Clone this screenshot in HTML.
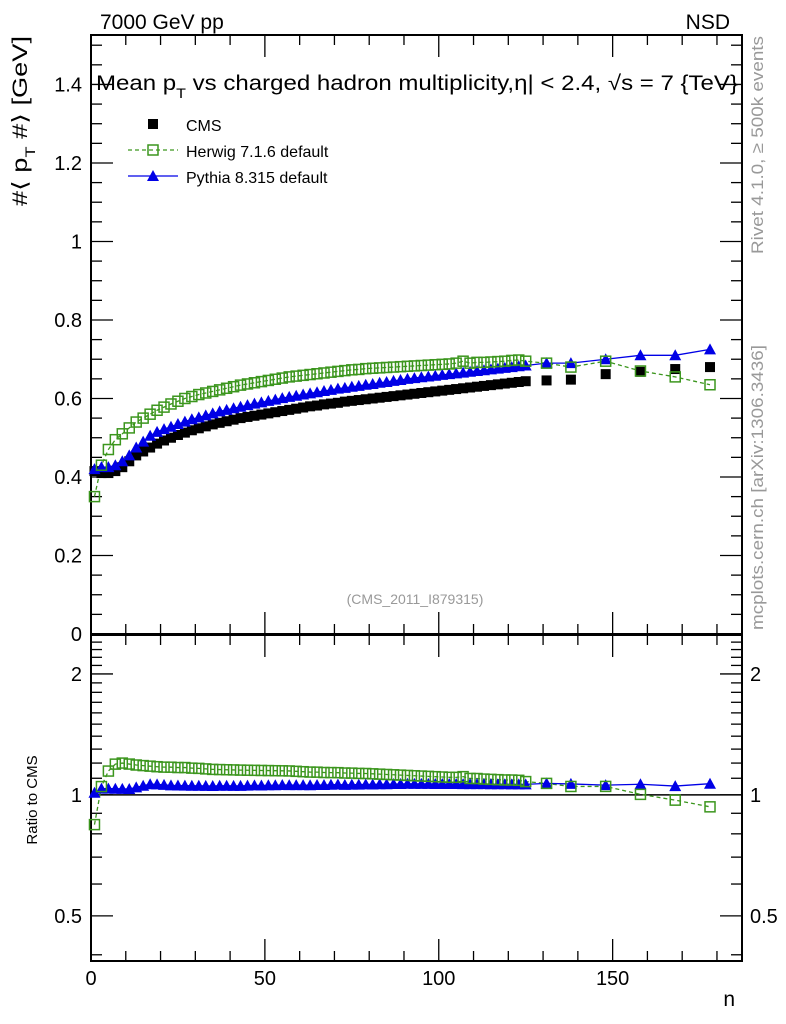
<!DOCTYPE html>
<html><head><meta charset="utf-8"><style>
html,body{margin:0;padding:0;background:#fff}
svg{display:block;font-family:"Liberation Sans","DejaVu Sans",sans-serif}
</style></head><body>
<svg id="chart" width="786" height="1024" viewBox="0 0 786 1024">
<g id="frames"></g><g id="marks"></g><g id="texts"></g>
</svg>
<script>
const nDense = [1,3,5,7,9,11,13,15,17,19,21,23,25,27,29,31,33,35,37,39,41,43,45,47,49,51,53,55,57,59,61,63,65,67,69,71,73,75,77,79,81,83,85,87,89,91,93,95,97,99,101,103,105,107,109,111,113,115,117,119,121,123,125,131,138,148,158,168,178];
const cmsVals = [0.415,0.41,0.41,0.415,0.425,0.44,0.455,0.465,0.475,0.485,0.493,0.5,0.507,0.513,0.519,0.524,0.529,0.534,0.538,0.542,0.546,0.55,0.553,0.556,0.559,0.562,0.565,0.568,0.571,0.574,0.577,0.58,0.582,0.585,0.587,0.589,0.592,0.594,0.596,0.598,0.6,0.602,0.604,0.606,0.608,0.61,0.612,0.614,0.616,0.618,0.62,0.622,0.624,0.626,0.628,0.63,0.632,0.634,0.636,0.638,0.64,0.642,0.644,0.646,0.648,0.662,0.668,0.675,0.68];
const pythiaVals = [0.42,0.425,0.425,0.43,0.44,0.455,0.475,0.49,0.505,0.515,0.522,0.528,0.535,0.541,0.547,0.552,0.557,0.562,0.567,0.571,0.575,0.579,0.583,0.587,0.59,0.594,0.597,0.601,0.604,0.607,0.61,0.613,0.616,0.619,0.622,0.625,0.627,0.63,0.632,0.635,0.637,0.64,0.642,0.645,0.647,0.65,0.652,0.654,0.656,0.658,0.66,0.662,0.664,0.666,0.668,0.67,0.672,0.674,0.676,0.678,0.68,0.682,0.684,0.69,0.69,0.70,0.71,0.71,0.725];
const herwigVals = [0.35,0.43,0.47,0.495,0.51,0.525,0.54,0.55,0.56,0.57,0.578,0.586,0.593,0.6,0.605,0.61,0.614,0.618,0.622,0.626,0.63,0.634,0.637,0.64,0.643,0.646,0.649,0.652,0.655,0.657,0.659,0.661,0.663,0.665,0.667,0.669,0.671,0.673,0.674,0.676,0.677,0.678,0.679,0.68,0.681,0.682,0.683,0.684,0.685,0.686,0.687,0.688,0.69,0.695,0.69,0.692,0.692,0.693,0.694,0.695,0.697,0.698,0.695,0.69,0.68,0.695,0.67,0.655,0.635];
const yTicksMain = [0,0.2,0.4,0.6,0.8,1,1.2,1.4];
const xTicks = [0,50,100,150];
const ratioTicks = [0.5,1,2];

const NS='http://www.w3.org/2000/svg';
const L=91,R=742,MT=35,MB=634,RT=635,RB=961;
const xs=v=>L+v*(R-L)/187.2;
const ys=v=>MB-v*(MB-MT)/1.526;
const lr0=Math.log(0.386),lr1=Math.log(2.5);
const yr=v=>RB-(Math.log(v)-lr0)/(lr1-lr0)*(RB-RT);
function mk(tag,at,parent){const e=document.createElementNS(NS,tag);for(const k in at)e.setAttribute(k,at[k]);parent.appendChild(e);return e;}
const F=document.getElementById('frames'),M=document.getElementById('marks'),T=document.getElementById('texts');

let fr=mk('rect',{x:L,y:MT,width:R-L,height:MB-MT,fill:'none',stroke:'#000','stroke-width':2},F);


let fr2=mk('rect',{x:L,y:RT,width:R-L,height:RB-RT,fill:'none',stroke:'#000','stroke-width':2},F);



for(let v=0;v<=185;v+=10){
  const big=v%50===0, len=big?22:10, x=xs(v);
  [[MT,1],[MB,-1],[RT,1],[RB,-1]].forEach(([y,d])=>mk('line',{x1:x,x2:x,y1:y,y2:y+d*len,stroke:'#000','stroke-width':1.3},F));
}
xTicks.forEach(v=>{const t=mk('text',{x:xs(v),y:985,'font-size':20,'text-anchor':'middle'},T);t.textContent=v;

});
for(let v=0;v<=1.5001;v+=0.05){const big=Math.abs(v*5-Math.round(v*5))<1e-6,len=big?22:11,y=ys(v);
 mk('line',{x1:L,x2:L+len,y1:y,y2:y,stroke:'#000','stroke-width':1.3},F);
 mk('line',{x1:R,x2:R-len,y1:y,y2:y,stroke:'#000','stroke-width':1.3},F);}
yTicksMain.forEach(v=>{const t=mk('text',{x:82,y:ys(v)+7,'font-size':20,'text-anchor':'end'},T);t.textContent=v===0?'0':String(v);

});
for(let v=0.4;v<=2.45;v+=0.1){const big=ratioTicks.some(r=>Math.abs(r-v)<1e-6),len=big?22:11,y=yr(v);
 mk('line',{x1:L,x2:L+len,y1:y,y2:y,stroke:'#000','stroke-width':1.3},F);
 mk('line',{x1:R,x2:R-len,y1:y,y2:y,stroke:'#000','stroke-width':1.3},F);}
ratioTicks.forEach(v=>{[[82,'end'],[750,'start']].forEach(([x,a])=>{const t=mk('text',{x:x,y:yr(v)+7,'font-size':20,'text-anchor':a},T);t.textContent=String(v);

});});
mk('line',{x1:L,x2:R,y1:yr(1),y2:yr(1),stroke:'#000','stroke-width':1.5},F);

const G='#3c961e',B='#0000e6';
function path(pts,col,dash,name){const p=mk('polyline',{points:pts.map(q=>q.join(',')).join(' '),fill:'none',stroke:col,'stroke-width':1.3,'stroke-dasharray':dash||'none'},M);

}
function sq(x,y,col,filled,name){const r=mk('rect',{x:x-5,y:y-5,width:10,height:10,fill:filled?col:'#fff','fill-opacity':filled?1:0,stroke:col,'stroke-width':filled?0:1.5},M);

}
function tri(x,y,name){const p=mk('polygon',{points:`${x},${y-6} ${x-6},${y+5} ${x+6},${y+5}`,fill:B},M);

}

path(nDense.map((n,i)=>[xs(n),ys(herwigVals[i])]),G,'4,3','herwig-line');
path(nDense.map((n,i)=>[xs(n),ys(pythiaVals[i])]),B,null,'pythia-line');
nDense.forEach((n,i)=>sq(xs(n),ys(cmsVals[i]),'#000',true,'cms-point'));
nDense.forEach((n,i)=>tri(xs(n),ys(pythiaVals[i]),'pythia-point'));
nDense.forEach((n,i)=>sq(xs(n),ys(herwigVals[i]),G,false,'herwig-point'));
path(nDense.map((n,i)=>[xs(n),yr(herwigVals[i]/cmsVals[i])]),G,'4,3','herwig-ratio-line');
path(nDense.map((n,i)=>[xs(n),yr(pythiaVals[i]/cmsVals[i])]),B,null,'pythia-ratio-line');
nDense.forEach((n,i)=>tri(xs(n),yr(pythiaVals[i]/cmsVals[i]),'pythia-ratio-point'));
nDense.forEach((n,i)=>sq(xs(n),yr(herwigVals[i]/cmsVals[i]),G,false,'herwig-ratio-point'));

sq(153,124,'#000',true,'legend-cms-marker');
path([[128,150],[178,150]],G,'4,3','legend-herwig-line');
sq(153,150,G,false,'legend-herwig-marker');
path([[128,176],[178,176]],B,null,'legend-pythia-line');
tri(153,176,'legend-pythia-marker');
</script>
<div style="position:absolute;left:0;top:0;width:786px;height:1024px;pointer-events:none">
<svg width="786" height="1024" style="font-family:'Liberation Sans','DejaVu Sans',sans-serif">
<text x="100" y="29" font-size="21">7000 GeV pp</text>
<text x="730" y="29" font-size="21" text-anchor="end">NSD</text>
<text x="96" y="90" font-size="21" textLength="642" lengthAdjust="spacingAndGlyphs">Mean p<tspan dy="8" font-size="14">T</tspan><tspan dy="-8"> vs charged hadron multiplicity,η| &lt; 2.4, √s = 7 {TeV}</tspan></text>
<text x="186" y="131" font-size="16">CMS</text>
<text x="186" y="157" font-size="16">Herwig 7.1.6 default</text>
<text x="186" y="183" font-size="16">Pythia 8.315 default</text>
<text x="415" y="604" font-size="14" fill="#999" text-anchor="middle">(CMS_2011_I879315)</text>
<text transform="translate(27,36) rotate(-90)" font-size="21" text-anchor="end" textLength="170" lengthAdjust="spacingAndGlyphs">#⟨ p<tspan dy="8" font-size="14">T</tspan><tspan dy="-8"> #⟩ [GeV]</tspan></text>
<text transform="translate(37,800) rotate(-90)" font-size="15" text-anchor="middle">Ratio to CMS</text>
<text x="735" y="1006" font-size="21" text-anchor="end">n</text>
<text transform="translate(763,36) rotate(-90)" font-size="17" fill="#999" text-anchor="end" textLength="218" lengthAdjust="spacingAndGlyphs">Rivet 4.1.0, ≥ 500k events</text>
<text transform="translate(763,345) rotate(-90)" font-size="17" fill="#999" text-anchor="end" textLength="285" lengthAdjust="spacingAndGlyphs">mcplots.cern.ch [arXiv:1306.3436]</text>
</svg></div>
</body></html>
